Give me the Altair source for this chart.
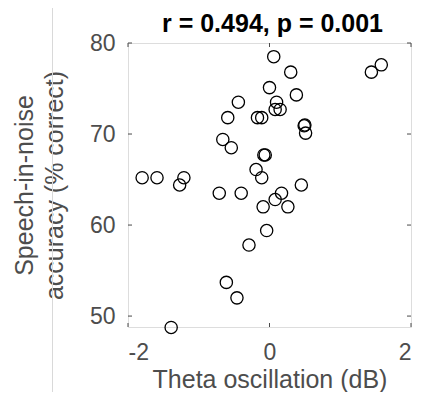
import altair as alt
import pandas as pd

theta = [0.06, 0.30, 0.00, 0.38, -0.44, 0.10, 0.08, 0.15, -0.59, -0.17, -0.11,
         0.50, 0.49, 0.51, -0.66, -0.54, -0.08, -0.06, -0.19, -0.11, -1.80, -1.59,
         -1.21, -1.27, 0.45, 1.44, 1.58, -0.71, -0.40, 0.17, 0.08, -0.09, 0.26,
         -0.04, -0.29, -0.61, -0.46, -1.39]
accuracy = [78.5, 76.8, 75.1, 74.3, 73.5, 73.5, 72.7, 72.7, 71.8, 71.8, 71.8,
            71.0, 70.9, 70.1, 69.4, 68.5, 67.7, 67.7, 66.1, 65.2, 65.2, 65.2,
            65.2, 64.4, 64.4, 76.8, 77.6, 63.5, 63.5, 63.5, 62.8, 62.0, 62.0,
            59.4, 57.8, 53.7, 52.0, 48.75]
x_ticks = [-2, 0, 2]
y_ticks = [50, 60, 70, 80]
title_text = "r = 0.494, p = 0.001"

FONT = "Liberation Sans"
GRAY = "#4d4d4d"
FRAME = "#4a4a4a"
W, H = 283, 284
LABEL_EXPR = "datum.value < 0 ? '-' + abs(datum.value) : '' + datum.value"

df = pd.DataFrame({"theta": theta, "acc": accuracy})
xt = pd.DataFrame({"v": x_ticks})
yt = pd.DataFrame({"v": y_ticks})

xscale = alt.Scale(domain=[-2, 2], nice=False)
yscale = alt.Scale(domain=[48.8, 80], nice=False, zero=False)

points = alt.Chart(df).mark_point(
    shape="circle", filled=False, color="black", size=150, strokeWidth=1.3, opacity=1
).encode(
    x=alt.X("theta:Q", scale=xscale,
            axis=alt.Axis(values=x_ticks, labelExpr=LABEL_EXPR, ticks=False,
                          domain=False, grid=False,
                          labelFont=FONT, labelFontSize=23, labelColor=GRAY,
                          labelBaseline="alphabetic", labelPadding=32,
                          title="Theta oscillation (dB)", titleFont=FONT,
                          titleFontSize=25, titleFontWeight="normal", titleColor=GRAY,
                          titleBaseline="alphabetic", titleX=W / 2, titleY=60)),
    y=alt.Y("acc:Q", scale=yscale,
            axis=alt.Axis(values=y_ticks, labelExpr=LABEL_EXPR, ticks=False,
                          domain=False, grid=False,
                          labelFont=FONT, labelFontSize=23, labelColor=GRAY,
                          labelPadding=13,
                          title=["Speech-in-noise", "accuracy (% correct)"],
                          titleFont=FONT, titleFontSize=25, titleFontWeight="normal",
                          titleColor=GRAY, titleLineHeight=30,
                          titleBaseline="alphabetic", titleX=-95.5, titleY=H / 2)),
)

tick_len = 4
bottom_ticks = alt.Chart(xt).mark_rule(color=FRAME, strokeWidth=1).encode(
    x=alt.X("v:Q", scale=xscale), y=alt.value(H), y2=alt.value(H - tick_len))
top_ticks = alt.Chart(xt).mark_rule(color=FRAME, strokeWidth=1).encode(
    x=alt.X("v:Q", scale=xscale), y=alt.value(0), y2=alt.value(tick_len))
left_ticks = alt.Chart(yt).mark_rule(color=FRAME, strokeWidth=1).encode(
    y=alt.Y("v:Q", scale=yscale), x=alt.value(0), x2=alt.value(tick_len))
right_ticks = alt.Chart(yt).mark_rule(color=FRAME, strokeWidth=1).encode(
    y=alt.Y("v:Q", scale=yscale), x=alt.value(W), x2=alt.value(W - tick_len))

edge_line = alt.Chart(pd.DataFrame({"a": [0]})).mark_rule(
    color="#d9d9d9", strokeWidth=1).encode(
    x=alt.value(-75.5), y=alt.value(-35), y2=alt.value(H + 65))

title_mark = alt.Chart(pd.DataFrame({"t": [title_text]})).mark_text(
    font=FONT, fontSize=25, fontWeight="bold", color="black",
    align="center", baseline="alphabetic"
).encode(text="t:N", x=alt.value(W / 2 + 3), y=alt.value(-11))

chart = alt.layer(
    edge_line, bottom_ticks, top_ticks, left_ticks, right_ticks, points, title_mark
).properties(
    width=W, height=H,
    autosize=alt.AutoSizeParams(type="none"),
    padding={"left": 120, "top": 35, "right": 5, "bottom": 65},
).configure_view(
    stroke=FRAME, strokeWidth=1
).configure(background="white")

chart.save("out.html", embed_options={"renderer": "svg", "actions": False})
